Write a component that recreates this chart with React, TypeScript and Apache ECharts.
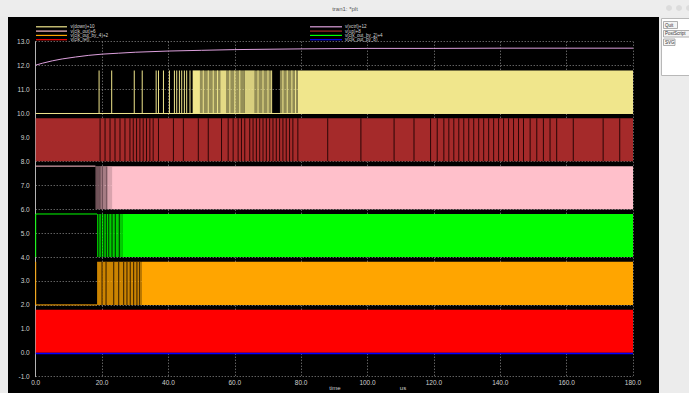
import React, { useEffect, useRef } from "react";
import * as echarts from "echarts";

const legendLeft = ["v(down)+10", "v(clk_out)+6", "v(clk_out_by_4)+2", "v(clk_ref)"];
const legendRight = ["v(vctrl)+12", "v(up)+8", "v(clk_out_by_2)+4", "v(clk_out_by_8)"];
const colorsLeft = ["#f0e68c", "#ffc0cb", "#ffa500", "#ff0000"];
const colorsRight = ["#dda0dd", "#a52a2a", "#00ff00", "#0000ff"];

const swing = 1.8;

// v(vctrl)+12
const vctrlTime = [0, 2, 5, 8, 12, 16, 20, 25, 30, 40, 50, 60, 80, 100, 120, 140, 160, 180];
const vctrlValue = [12.02, 12.1, 12.2, 12.28, 12.36, 12.43, 12.48, 12.52, 12.56, 12.61, 12.64, 12.67, 12.7, 12.72, 12.72, 12.73, 12.73, 12.73];

// v(down)+10
const downIdle = [[0, 10], [180, 10]];
const downPulses = [
  19.1, 22.9, 29.7, 32.1, 36.3, 37, 38.5, 40.3, 41.8, 42.5, 43.3, 44, 44.8, 45.5, 46.5,
  50.5, 52, 53.5, 54.8, 58.5, 60, 61.5, 67, 68.5, 70, 71.1, 74.5, 75.8, 77.2, 78.3,
];
const downSpans = [
  [47.3, 49.5, 1], [49.5, 55.6, 0.62], [55.6, 57.5, 0.95], [57.5, 63, 0.62], [63, 66, 0.9],
  [66, 71, 0.62], [73.6, 79, 0.6], [79, 180, 1],
];

// v(clk_out)+6
const clkOutIdle = [[0, 7.8], [18, 7.8]];
const clkOutSpans = [[18, 19.5, 0.45], [19.5, 21, 0.65], [21, 23, 0.85], [23, 180, 1]];
const clkOutGaps = [18.4, 19.2, 20.1, 21.4];

// v(up)+8
const upSpans = [[0, 180, 1]];
const upGaps = [
  19.4, 20.9, 22.4, 23.9, 25.4, 26.9, 28.4, 29.4, 30.4, 31.4, 32.4, 33.4, 34.4, 35.4, 37, 41.5,
  44.5, 49, 52, 56, 58, 59.5, 61, 62, 63, 64.5, 65.5, 66.5, 67.5, 68.5, 69.5, 70.5, 71.5, 72.5,
  73.5, 74.5, 75.5, 76.5, 77.5, 79, 88, 98, 108, 114, 119, 121, 123, 124.5, 126, 127.5, 129,
  130.5, 132, 133.5, 135, 136.5, 138, 139.5, 141, 142.5, 144, 145.5, 147, 149, 151, 153, 155,
  157, 162, 171, 176,
];

// v(clk_out_by_4)+2
const by4Idle = [[0, 3.8], [0, 2], [18.5, 2]];
const by4Spans = [[18.5, 32, 0.8], [32, 180, 1]];
const by4Gaps = [20, 21.2, 23.5, 25, 26.5, 27.5, 28.5, 29.5, 30.5, 31.3];

// v(clk_out_by_2)+4
const by2Idle = [[0, 4], [0, 5.8], [18.5, 5.8]];
const by2Spans = [[18.5, 26.3, 0.8], [26.3, 180, 1]];
const by2Gaps = [19, 19.8, 20.5, 21.3, 22, 23, 24, 25.2];

// v(clk_ref)
const refSpans = [[0, 180, 1]];

// v(clk_out_by_8)
const by8Trace = [[0, -0.03], [180, -0.03]];

function bandSeries(color: string, base: number, spans: number[][], z: number) {
  return {
    type: "custom",
    silent: true,
    z,
    data: spans,
    renderItem: (_p: any, api: any) => {
      const a = api.coord([api.value(0), base + swing]);
      const b = api.coord([api.value(1), base]);
      return {
        type: "rect",
        shape: { x: a[0], y: a[1], width: Math.max(b[0] - a[0], 1), height: b[1] - a[1] },
        style: { fill: color, opacity: api.value(2) },
      };
    },
  };
}

function tickSeries(color: string, base: number, times: number[], w: number, z: number, op = 1) {
  return {
    type: "custom",
    silent: true,
    z,
    data: times.map((t) => [t, base]),
    renderItem: (_p: any, api: any) => {
      const a = api.coord([api.value(0), base + swing]);
      const b = api.coord([api.value(0), base]);
      return {
        type: "rect",
        shape: { x: a[0] - w / 2, y: a[1], width: w, height: b[1] - a[1] },
        style: { fill: color, opacity: op },
      };
    },
  };
}

function traceSeries(color: string, data: number[][], z: number, width = 1) {
  return {
    type: "line",
    silent: true,
    z,
    data,
    showSymbol: false,
    symbol: "none",
    lineStyle: { color, width },
  };
}

const labelFont = "Liberation Sans";

export default function App() {
  const ref = useRef<HTMLDivElement>(null);
  useEffect(() => {
    if (!ref.current) return;
    const chart = echarts.init(ref.current, undefined, { renderer: "svg" });
    const legendGraphics: any[] = [];
    const rows = [26.8, 31.1, 35.4, 39.7];
    rows.forEach((y, i) => {
      legendGraphics.push({ type: "line", z: 50, shape: { x1: 36, y1: y, x2: 67, y2: y }, style: { stroke: colorsLeft[i], lineWidth: 1.2 } });
      legendGraphics.push({ type: "text", z: 50, x: 70.5, y, style: { text: legendLeft[i], fill: "#d8d8d8", font: `4.6px ${labelFont}`, lineHeight: 4.2, verticalAlign: "middle" } });
      legendGraphics.push({ type: "line", z: 50, shape: { x1: 310, y1: y, x2: 342, y2: y }, style: { stroke: colorsRight[i], lineWidth: 1.2 } });
      legendGraphics.push({ type: "text", z: 50, x: 345, y, style: { text: legendRight[i], fill: "#d8d8d8", font: `4.6px ${labelFont}`, lineHeight: 4.2, verticalAlign: "middle" } });
    });
    const vctrlData = vctrlTime.map((t, i) => [t, vctrlValue[i]]);
    const option: any = {
      animation: false,
      backgroundColor: "#ececec",
      grid: { left: 35.7, top: 41.7, width: 597.3, height: 335, containLabel: false },
      xAxis: {
        type: "value", min: 0, max: 180, interval: 20,
        axisLine: { show: false }, axisTick: { show: false },
        splitLine: { show: true, showMinLine: true, showMaxLine: true, lineStyle: { color: "#8c8c8c", type: [1, 2], width: 1 } },
        axisLabel: { color: "#d0d0d0", fontSize: 6.5, fontFamily: labelFont, margin: 2, formatter: (v: number) => v.toFixed(1) },
      },
      yAxis: {
        type: "value", min: -1, max: 13, interval: 1,
        axisLine: { show: true, lineStyle: { color: "#b4b4b4", width: 1 } }, axisTick: { show: false },
        splitLine: { show: true, showMinLine: true, showMaxLine: true, lineStyle: { color: "#8c8c8c", type: [1, 2], width: 1 } },
        axisLabel: { color: "#d0d0d0", fontSize: 6.5, fontFamily: labelFont, margin: 6, formatter: (v: number) => v.toFixed(1) },
      },
      graphic: [
        { type: "rect", z: -20, silent: true, shape: { x: 8, y: 17, width: 651, height: 376 }, style: { fill: "#000000" } },
        { type: "rect", z: -20, silent: true, shape: { x: 0, y: 0, width: 689, height: 16 }, style: { fill: "#ededed" } },
        { type: "text", z: -19, x: 345, y: 8.5, style: { text: "tran1: *plt", fill: "#555555", font: `6px ${labelFont}`, align: "center", verticalAlign: "middle" } },
        { type: "circle", z: -19, shape: { cx: 669, cy: 8, r: 3 }, style: { fill: "#dcdcdc" } },
        { type: "circle", z: -19, shape: { cx: 679, cy: 8, r: 3 }, style: { fill: "#dcdcdc" } },
        { type: "circle", z: -19, shape: { cx: 689, cy: 8, r: 3 }, style: { fill: "#dcdcdc" } },
        { type: "rect", z: -19, shape: { x: 661.5, y: 18.5, width: 30, height: 57 }, style: { fill: "#ffffff", stroke: "#b8b8b8", lineWidth: 1 } },
        { type: "rect", z: -18, shape: { x: 663.5, y: 21.5, width: 14, height: 7 }, style: { fill: "#f4f4f4", stroke: "#9a9a9a", lineWidth: 0.8 } },
        { type: "text", z: -17, x: 665, y: 25, style: { text: "Quit", fill: "#333333", font: `4.5px ${labelFont}`, verticalAlign: "middle" } },
        { type: "rect", z: -18, shape: { x: 663.5, y: 30.5, width: 27, height: 6.5 }, style: { fill: "#f4f4f4", stroke: "#9a9a9a", lineWidth: 0.8 } },
        { type: "text", z: -17, x: 665, y: 33.8, style: { text: "PostScript", fill: "#333333", font: `4.5px ${labelFont}`, verticalAlign: "middle" } },
        { type: "rect", z: -18, shape: { x: 663.5, y: 39, width: 11.5, height: 6.5 }, style: { fill: "#f4f4f4", stroke: "#9a9a9a", lineWidth: 0.8 } },
        { type: "text", z: -17, x: 665, y: 42.3, style: { text: "SVG", fill: "#333333", font: `4.5px ${labelFont}`, verticalAlign: "middle" } },
        { type: "text", z: 50, x: 335, y: 388, style: { text: "time", fill: "#d0d0d0", font: `6px ${labelFont}`, align: "center", verticalAlign: "middle" } },
        { type: "text", z: 50, x: 403, y: 388, style: { text: "us", fill: "#d0d0d0", font: `6px ${labelFont}`, align: "center", verticalAlign: "middle" } },
        ...legendGraphics,
      ],
      series: [
        traceSeries(colorsLeft[0], downIdle, 3),
        bandSeries(colorsLeft[0], 10, downSpans, 3),
        tickSeries(colorsLeft[0], 10, downPulses, 1, 3),
        traceSeries(colorsRight[0], vctrlData, 4),
        traceSeries(colorsLeft[1], clkOutIdle, 5),
        bandSeries(colorsLeft[1], 6, clkOutSpans, 5),
        tickSeries("#705058", 6, clkOutGaps, 1.2, 5),
        bandSeries(colorsRight[1], 8, upSpans, 6),
        tickSeries("#2a0606", 8, upGaps, 1, 6),
        traceSeries(colorsLeft[2], by4Idle, 7),
        bandSeries(colorsLeft[2], 2, by4Spans, 7),
        tickSeries("#4a2c00", 2, by4Gaps, 1.2, 7),
        traceSeries(colorsRight[2], by2Idle, 8),
        bandSeries(colorsRight[2], 4, by2Spans, 8),
        tickSeries("#004000", 4, by2Gaps, 1.2, 8),
        bandSeries(colorsLeft[3], 0, refSpans, 9),
        traceSeries(colorsRight[3], by8Trace, 10, 1.5),
      ],
    };
    chart.setOption(option);
    return () => chart.dispose();
  }, []);
  return <div ref={ref} style={{ position: "fixed", left: 0, top: 0, width: 689, height: 393 }} />;
}
